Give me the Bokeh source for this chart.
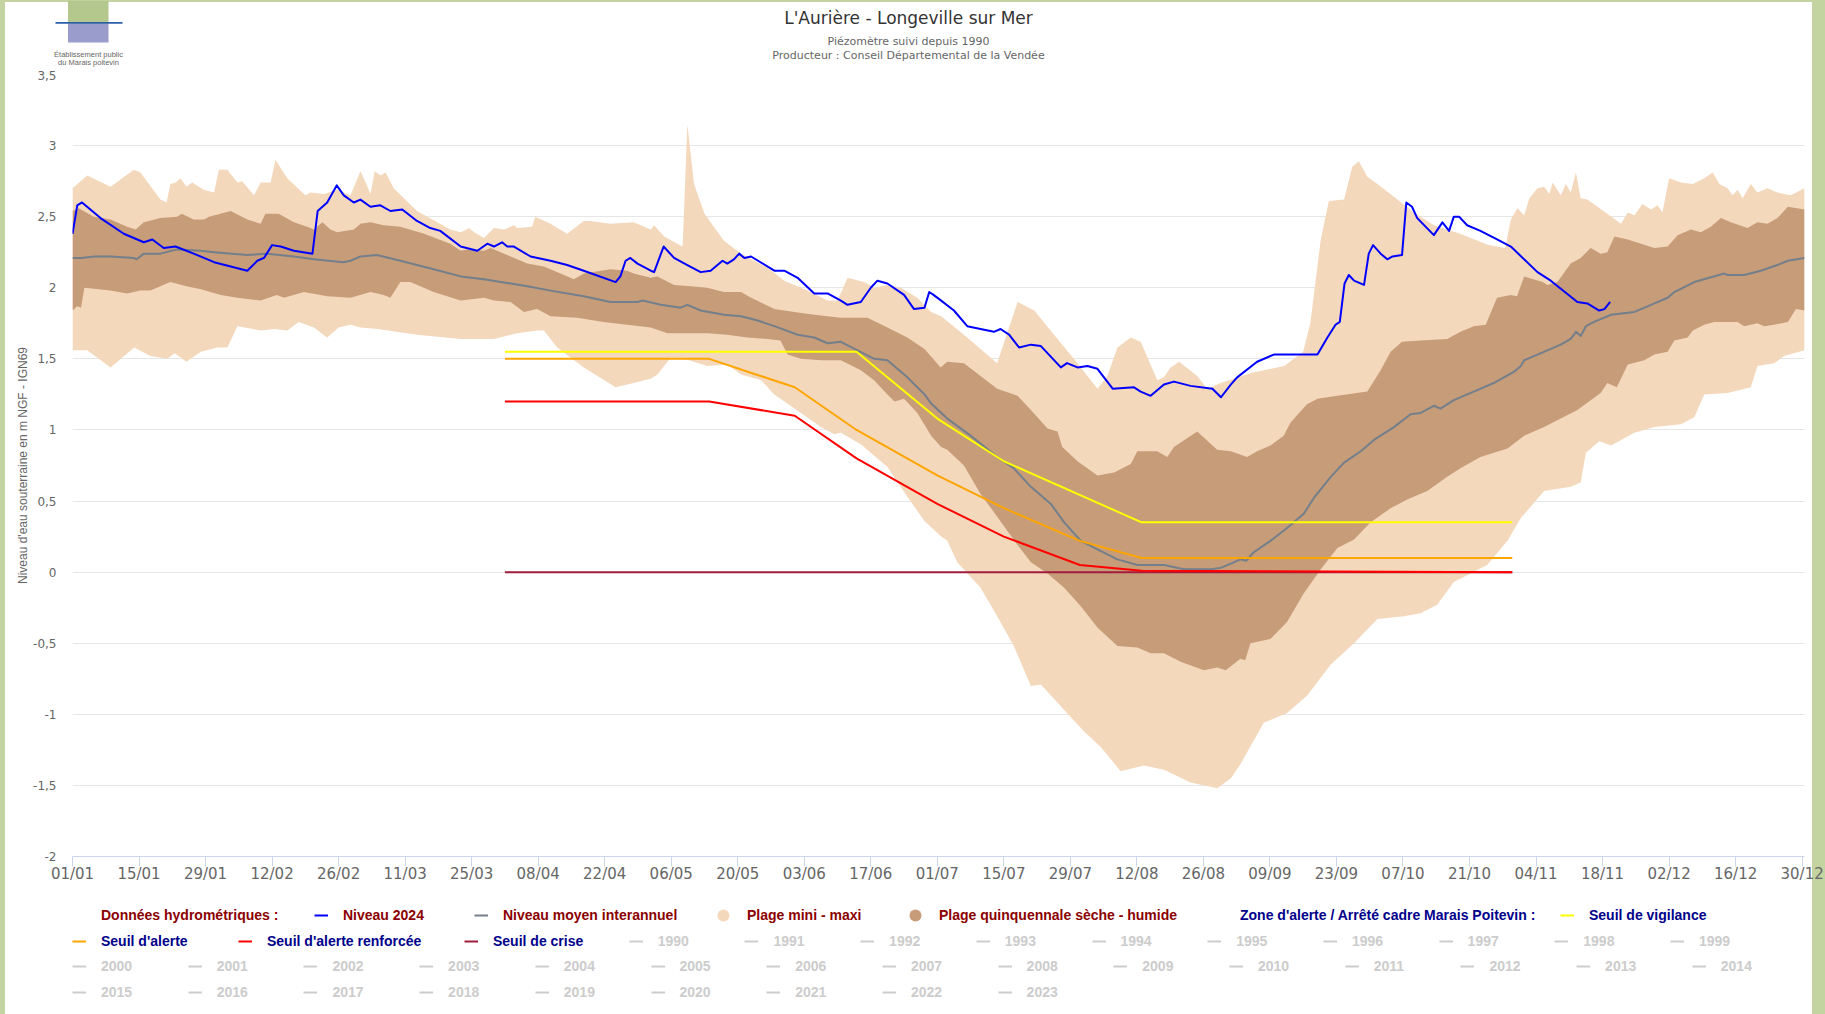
from bokeh.plotting import figure
from bokeh.layouts import column
from bokeh.models import Range1d, FixedTicker, Label, Legend, LegendItem, Plot
from bokeh.core.properties import value
from bokeh.embed import file_html
from bokeh.resources import INLINE

# ---------------- data (x = day of year 2024, 0 = 01/01) ----------------
X_TICK_DAYS = [0, 14, 28, 42, 56, 70, 84, 98, 112, 126, 140, 154, 168, 182,
               196, 210, 224, 238, 252, 266, 280, 294, 308, 322, 336, 350, 364]
X_TICK_LABELS = ["01/01", "15/01", "29/01", "12/02", "26/02", "11/03", "25/03",
                 "08/04", "22/04", "06/05", "20/05", "03/06", "17/06", "01/07",
                 "15/07", "29/07", "12/08", "26/08", "09/09", "23/09", "07/10",
                 "21/10", "04/11", "18/11", "02/12", "16/12", "30/12"]
Y_TICKS = [-2.0, -1.5, -1.0, -0.5, 0.0, 0.5, 1.0, 1.5, 2.0, 2.5, 3.0, 3.5]
Y_TICK_LABELS = ["-2", "-1,5", "-1", "-0,5", "0", "0,5", "1", "1,5", "2", "2,5", "3", "3,5"]

# Plage mini - maxi : upper edge (maxi)
MAXI = [(0, 2.70), (3.1, 2.79), (8, 2.71), (12.9, 2.83), (14.3, 2.81), (18.5, 2.62), (19.8, 2.60),
        (20.6, 2.73), (21.7, 2.74), (22.7, 2.77), (24, 2.71), (25.2, 2.74), (27.6, 2.69), (29.8, 2.67),
        (30.8, 2.83), (32.6, 2.83), (34.7, 2.74), (35.7, 2.75), (38.2, 2.65), (39.6, 2.74), (41.7, 2.74),
        (42.7, 2.90), (45.2, 2.77), (49, 2.65), (50.1, 2.67), (52.9, 2.66), (55.7, 2.69), (58.5, 2.65),
        (60.6, 2.82), (61.7, 2.74), (62.7, 2.66), (63.6, 2.82), (64.8, 2.79), (65.9, 2.81), (67.6, 2.70),
        (72.5, 2.54), (79.5, 2.41), (81.7, 2.39), (83.5, 2.42), (84.5, 2.39), (86.6, 2.35), (88.7, 2.42),
        (90.8, 2.41), (92.9, 2.44), (93.6, 2.42), (96.7, 2.43), (97.4, 2.50), (100.6, 2.45), (104.1, 2.38),
        (107.6, 2.47), (109, 2.47), (113.2, 2.45), (118.1, 2.46), (121.7, 2.41), (122.4, 2.44), (124.5, 2.36),
        (128.4, 2.29), (129.4, 3.15), (130.8, 2.73), (133, 2.52), (137.1, 2.33), (140.7, 2.24), (146.3, 2.14),
        (149.8, 2.05), (154.7, 1.98), (158.9, 1.91), (161, 1.91), (163.1, 2.07), (166.6, 2.04), (168.7, 2.00),
        (171.5, 2.02), (174.3, 2.00), (177.8, 1.93), (180.7, 1.83), (182.8, 1.80), (187.6, 1.67), (194.6, 1.47),
        (197.1, 1.72), (198.9, 1.90), (202.4, 1.84), (207.3, 1.64), (211.5, 1.47), (215.7, 1.29), (217.8, 1.38),
        (219.9, 1.58), (222.7, 1.65), (224.8, 1.62), (228.3, 1.35), (229.7, 1.37), (231.1, 1.44), (232.9, 1.48),
        (236.7, 1.38), (238.8, 1.29), (241.6, 1.33), (248, 1.40), (255, 1.45), (259, 1.55), (260.5, 1.75),
        (262.7, 2.34), (264.4, 2.61), (267.6, 2.62), (269.3, 2.85), (270.7, 2.89), (272.5, 2.78), (274.6, 2.73),
        (278.1, 2.64), (282.3, 2.53), (286.5, 2.44), (292, 2.38), (298, 2.30), (301.5, 2.28), (302.7, 2.48),
        (304.1, 2.56), (305.5, 2.51), (306.6, 2.63), (308.3, 2.70), (309.7, 2.71), (310.8, 2.66), (311.5, 2.74),
        (313.2, 2.65), (314.3, 2.73), (315.3, 2.67), (316.4, 2.81), (317.4, 2.63), (318.8, 2.62), (323, 2.52),
        (325.9, 2.45), (327.3, 2.53), (328.7, 2.51), (330.4, 2.59), (332.2, 2.55), (333.6, 2.58), (334.6, 2.53),
        (336, 2.77), (338.5, 2.74), (341, 2.73), (343.4, 2.77), (345.2, 2.81), (346.6, 2.73), (348.3, 2.70),
        (349.4, 2.65), (350.4, 2.69), (351.5, 2.63), (353.2, 2.73), (354.6, 2.67), (356.7, 2.70), (358.8, 2.67),
        (361.6, 2.65), (364.5, 2.70)]

# Plage mini - maxi : lower edge (mini)
MINI = [(0, 1.56), (3.1, 1.56), (8, 1.44), (13, 1.58), (16.4, 1.52), (20, 1.50), (21.5, 1.54), (24, 1.48),
        (27, 1.55), (30.5, 1.58), (32.6, 1.58), (34.7, 1.73), (39.6, 1.70), (42.5, 1.71), (45.2, 1.70),
        (47.6, 1.76), (50.8, 1.72), (53.6, 1.65), (56, 1.72), (58.5, 1.74), (60.6, 1.72), (64.1, 1.71),
        (72.5, 1.67), (81.7, 1.64), (88.7, 1.64), (93.6, 1.68), (97.8, 1.70), (99.2, 1.70), (102, 1.58),
        (107.6, 1.44), (114.3, 1.30), (118.1, 1.33), (121.7, 1.36), (123.1, 1.39), (125.9, 1.51), (128.7, 1.50),
        (133.6, 1.45), (137.8, 1.46), (140.7, 1.39), (144.9, 1.35), (147.7, 1.25), (153.3, 1.12), (157.5, 1.02),
        (160.3, 0.97), (161.7, 0.98), (165.9, 0.90), (171.5, 0.74), (175.7, 0.53), (179.3, 0.36), (182.8, 0.25),
        (184.1, 0.22), (186.2, 0.07), (191.1, -0.11), (194.6, -0.31), (198.1, -0.52), (201.7, -0.80),
        (203.8, -0.79), (208.7, -0.97), (212.9, -1.12), (216.4, -1.23), (220.6, -1.40), (225.5, -1.36),
        (229.7, -1.39), (235.3, -1.48), (240.9, -1.52), (243.8, -1.45), (245.8, -1.35), (250.7, -1.06),
        (255.6, -0.99), (259.8, -0.87), (264.8, -0.65), (269.7, -0.50), (274.6, -0.33), (280.2, -0.31),
        (283.7, -0.29), (287.2, -0.23), (290.7, -0.07), (294.2, -0.01), (297.7, 0.05), (302, 0.22),
        (304.8, 0.38), (309.7, 0.57), (315.3, 0.60), (317.4, 0.63), (318.5, 0.84), (321.3, 0.92), (323.8, 0.89),
        (328.7, 0.98), (332.9, 1.02), (338.5, 1.04), (341.3, 1.09), (343.4, 1.25), (348.3, 1.26), (353.2, 1.30),
        (354.6, 1.45), (358.1, 1.47), (360.2, 1.52), (364.5, 1.56)]

# Plage quinquennale : humide (upper edge)
QUINQ_HUMIDE = [(0, 2.54), (1.3, 2.56), (4.5, 2.50), (8, 2.48), (11.5, 2.43), (13.3, 2.41), (15, 2.46),
                (18.5, 2.49), (22, 2.50), (23, 2.52), (25.5, 2.48), (27.7, 2.48), (28.7, 2.50), (33.3, 2.54),
                (36.8, 2.48), (39.6, 2.45), (40.6, 2.52), (43.4, 2.52), (46.6, 2.46), (49.4, 2.43), (50.8, 2.41),
                (52.6, 2.46), (54.3, 2.41), (55.7, 2.39), (59.2, 2.41), (60.6, 2.45), (62.7, 2.46), (65.5, 2.44),
                (69, 2.43), (74, 2.38), (79.5, 2.31), (81.7, 2.26), (83.1, 2.27), (86.6, 2.26), (88, 2.28),
                (92.2, 2.22), (95.7, 2.17), (99.2, 2.15), (102.7, 2.10), (105.5, 2.06), (107.6, 2.10),
                (113.2, 2.13), (116.7, 2.12), (118.1, 2.10), (121.7, 2.07), (123.1, 2.08), (126.6, 2.02),
                (130.1, 2.01), (133.6, 2.00), (137.1, 1.97), (140.7, 1.97), (142.8, 1.93), (147.7, 1.85),
                (151.9, 1.83), (156.1, 1.81), (161.7, 1.79), (167.3, 1.79), (171.5, 1.72), (175.7, 1.65),
                (179.3, 1.57), (180.6, 1.52), (182.7, 1.44), (184.1, 1.48), (187.6, 1.47), (191.1, 1.38),
                (194.6, 1.29), (198.9, 1.24), (201.7, 1.14), (205.2, 1.01), (207.3, 0.99), (208.3, 0.88),
                (211.5, 0.78), (215.7, 0.68), (219.2, 0.70), (222.7, 0.76), (224.1, 0.85), (228.3, 0.85),
                (230.4, 0.81), (231.8, 0.88), (236.7, 0.99), (240.9, 0.86), (243.8, 0.85), (247.2, 0.81),
                (249.3, 0.85), (252.1, 0.89), (254.9, 0.96), (256.3, 1.05), (259.8, 1.18), (262, 1.22),
                (266.2, 1.24), (272.5, 1.27), (275.3, 1.42), (277.4, 1.55), (279.8, 1.62), (283.7, 1.63),
                (289.3, 1.64), (292.1, 1.69), (294.9, 1.73), (297.4, 1.74), (299.8, 1.93), (302.7, 1.95),
                (304, 1.94), (305.5, 2.08), (309.4, 2.04), (310.4, 2.02), (312.5, 2.04), (315.3, 2.17),
                (317.4, 2.21), (319.5, 2.28), (321.6, 2.24), (323, 2.25), (324.5, 2.36), (327.3, 2.34),
                (332.9, 2.28), (335.7, 2.29), (337.8, 2.37), (340.6, 2.41), (342.7, 2.39), (344.8, 2.43),
                (346.9, 2.49), (349, 2.46), (352.5, 2.42), (354.6, 2.46), (356.7, 2.45), (358.8, 2.49),
                (361, 2.57), (364.5, 2.55)]

# Plage quinquennale : seche (lower edge)
QUINQ_SECHE = [(0, 1.84), (1, 1.87), (1.8, 1.86), (2.5, 2.00), (8, 1.98), (11.5, 1.96), (14.3, 1.98),
               (16.4, 1.98), (20.6, 2.04), (24, 2.01), (27, 1.99), (31.2, 1.95), (34.7, 1.93), (39.6, 1.91),
               (43, 1.95), (44.5, 1.93), (48.7, 1.97), (53.6, 1.94), (58.5, 1.93), (62.7, 1.97), (65.5, 1.95),
               (66.9, 1.93), (69, 2.04), (71.1, 2.04), (76, 1.97), (81.7, 1.91), (86.6, 1.93), (88.7, 1.91),
               (92.2, 1.90), (95, 1.83), (97.8, 1.85), (100.6, 1.80), (106.2, 1.79), (111.8, 1.76),
               (116.7, 1.74), (121.7, 1.72), (125.2, 1.68), (133.6, 1.68), (137.8, 1.67), (142, 1.65),
               (146.3, 1.64), (149, 1.63), (150.5, 1.53), (153.3, 1.50), (157.5, 1.49), (161.7, 1.49),
               (165.9, 1.42), (168.7, 1.35), (171.5, 1.25), (173, 1.20), (175, 1.22), (177.8, 1.12),
               (180.7, 0.96), (182.8, 0.88), (184.1, 0.86), (187.6, 0.75), (191.1, 0.55), (194.6, 0.39),
               (198.9, 0.19), (201.7, 0.07), (205.2, -0.01), (208.7, -0.11), (212.2, -0.24), (215.7, -0.39),
               (219.9, -0.52), (224.1, -0.53), (226.9, -0.57), (229.7, -0.57), (233.2, -0.63), (238.1, -0.69),
               (240.9, -0.67), (242.7, -0.69), (245.8, -0.61), (246.8, -0.62), (247.9, -0.50), (252.1, -0.47),
               (255.6, -0.35), (259.1, -0.15), (262.7, 0.02), (266.2, 0.17), (269.7, 0.23), (273.2, 0.35),
               (277.4, 0.45), (280.9, 0.51), (285.1, 0.57), (289.3, 0.67), (292.1, 0.73), (296.3, 0.81),
               (302, 0.87), (305.5, 0.96), (309.7, 1.02), (316.7, 1.14), (321.6, 1.26), (323, 1.33),
               (325, 1.30), (327.3, 1.46), (330.8, 1.49), (332.9, 1.53), (335.7, 1.55), (337.1, 1.63),
               (339.9, 1.65), (341, 1.70), (343.4, 1.74), (345.5, 1.76), (350.4, 1.76), (351.8, 1.73),
               (354.6, 1.75), (356, 1.73), (358.1, 1.74), (361, 1.76), (362.7, 1.85), (364.5, 1.84)]

# Niveau moyen interannuel
MOYEN = [(0, 2.21), (2, 2.21), (4.5, 2.22), (8, 2.22), (12.9, 2.21), (13.5, 2.20), (15, 2.24), (18.5, 2.24),
         (22, 2.27), (27, 2.26), (29.8, 2.25), (36.8, 2.23), (41, 2.24), (46.6, 2.22), (50.8, 2.20),
         (57, 2.18), (58.5, 2.19), (60.6, 2.22), (64.1, 2.23), (69, 2.19), (76, 2.13), (81.7, 2.08),
         (86.6, 2.06), (92.2, 2.03), (95.7, 2.01), (100.6, 1.98), (107.6, 1.94), (113.2, 1.90), (118.9, 1.90),
         (120, 1.91), (123.8, 1.88), (128, 1.86), (129.4, 1.88), (132.2, 1.84), (137.1, 1.81), (140.7, 1.80),
         (144.2, 1.77), (147.7, 1.73), (152.6, 1.67), (156.1, 1.65), (158.9, 1.61), (161.7, 1.62),
         (165.2, 1.56), (168.7, 1.50), (171.5, 1.49), (175.7, 1.37), (179.3, 1.25), (180.6, 1.19),
         (184.1, 1.08), (189, 0.96), (194.6, 0.81), (198.1, 0.73), (201.7, 0.60), (205.9, 0.48), (208.7, 0.35),
         (212.2, 0.22), (215.7, 0.16), (219.9, 0.09), (224.1, 0.05), (229.7, 0.05), (233.9, 0.02),
         (239.5, 0.02), (241.6, 0.03), (243.8, 0.06), (245.8, 0.09), (247, 0.08), (248.6, 0.14), (252.1, 0.22),
         (255.6, 0.31), (259.1, 0.41), (261.2, 0.52), (264.8, 0.67), (267.6, 0.77), (271.1, 0.85),
         (273.9, 0.93), (278.1, 1.02), (281.6, 1.11), (283.7, 1.12), (286.5, 1.17), (287.9, 1.15),
         (290.7, 1.21), (294.9, 1.27), (299.1, 1.33), (303.4, 1.41), (304.8, 1.45), (305.5, 1.49),
         (308.3, 1.53), (313.2, 1.60), (315.3, 1.64), (316.4, 1.69), (317.4, 1.66), (318.5, 1.73),
         (320.2, 1.76), (323.8, 1.81), (328.7, 1.83), (332.2, 1.88), (335.7, 1.93), (337.1, 1.97),
         (341.3, 2.04), (347.6, 2.10), (348.3, 2.09), (351.8, 2.09), (355.3, 2.12), (358.8, 2.16),
         (361, 2.19), (364.5, 2.21)]

# Niveau 2024
NIVEAU_2024 = [(0, 2.38), (1, 2.58), (2, 2.60), (5.9, 2.49), (10.8, 2.38), (15, 2.32), (16.8, 2.34),
               (19.2, 2.28), (21.7, 2.29), (25.5, 2.24), (29.8, 2.18), (36.8, 2.12), (38.9, 2.19), (40.3, 2.21),
               (42, 2.30), (43.8, 2.29), (46.6, 2.26), (50.5, 2.24), (51.6, 2.54), (53.6, 2.60), (55.6, 2.72),
               (57.1, 2.65), (59.2, 2.60), (60.6, 2.62), (62.7, 2.57), (64.8, 2.58), (66.9, 2.54), (69.4, 2.55),
               (72.5, 2.47), (75.3, 2.42), (77.4, 2.40), (81.7, 2.29), (85.2, 2.26), (87.3, 2.31), (88.7, 2.29),
               (90.4, 2.32), (91.5, 2.29), (92.9, 2.29), (96.4, 2.22), (100.6, 2.19), (104.1, 2.16),
               (107.6, 2.12), (114.3, 2.04), (115.3, 2.08), (116.4, 2.19), (117.4, 2.21), (118.9, 2.17),
               (121.7, 2.12), (122.4, 2.11), (124.4, 2.29), (126.6, 2.21), (129.4, 2.16), (132.2, 2.11),
               (134.3, 2.12), (136.8, 2.19), (137.8, 2.17), (139.2, 2.20), (140.3, 2.24), (141.4, 2.21),
               (142.8, 2.22), (147.7, 2.12), (149.8, 2.12), (152.6, 2.07), (156.1, 1.96), (158.9, 1.96),
               (161.7, 1.91), (163.1, 1.88), (165.9, 1.90), (168, 2.00), (169.4, 2.05), (171.5, 2.03),
               (175, 1.95), (177.1, 1.85), (179.3, 1.86), (180.3, 1.97), (181.2, 1.95), (182.4, 1.92),
               (185.5, 1.84), (188.3, 1.73), (191.1, 1.71), (193.9, 1.69), (195.3, 1.71), (197.1, 1.67),
               (199.2, 1.58), (201.7, 1.60), (203.8, 1.59), (208, 1.44), (209.3, 1.47), (211.5, 1.44),
               (213.6, 1.45), (215.7, 1.43), (218.9, 1.29), (223.4, 1.30), (224.8, 1.27), (226.9, 1.24),
               (229.7, 1.32), (231.8, 1.34), (235.3, 1.31), (239.9, 1.29), (241.7, 1.23), (243.8, 1.32),
               (245.1, 1.37), (249.3, 1.48), (252.8, 1.53), (257.7, 1.53), (262, 1.53), (264.1, 1.65),
               (265.8, 1.74), (266.7, 1.76), (267.7, 2.03), (268.6, 2.09), (269.7, 2.05), (271.8, 2.02),
               (272.8, 2.24), (273.7, 2.30), (275.3, 2.24), (276.7, 2.20), (277.8, 2.22), (279.8, 2.23),
               (280.7, 2.60), (281.9, 2.57), (283, 2.49), (286.5, 2.37), (288.3, 2.46), (289.7, 2.40),
               (290.7, 2.50), (291.8, 2.50), (293.5, 2.44), (296.3, 2.40), (299.8, 2.34), (302.7, 2.29),
               (308.3, 2.11), (311.1, 2.05), (316.7, 1.90), (318.8, 1.89), (321.3, 1.84), (322.4, 1.85),
               (323.6, 1.90)]

# Zone d'alerte / Arrêté cadre Marais Poitevin
SEUIL_VIGILANCE = [(91, 1.55), (165, 1.55), (182, 1.08), (196, 0.78), (225, 0.35), (303, 0.35)]
SEUIL_ALERTE = [(91, 1.50), (134, 1.50), (152, 1.30), (165, 1.00), (182, 0.68), (196, 0.45),
                (212, 0.22), (225, 0.10), (303, 0.10)]
SEUIL_RENFORCEE = [(91, 1.20), (134, 1.20), (152, 1.10), (165, 0.80), (182, 0.48), (196, 0.25),
                   (212, 0.05), (225, 0.01), (303, 0.0)]
SEUIL_CRISE = [(91, 0.0), (303, 0.0)]

YEARS = [str(y) for y in range(1990, 2024)]

# ---------------- styles ----------------
LIGHT = "#f4d8bc"
DARK = "#c79c79"
DARKRED = "#8b0000"
NAVY = "#00008b"
FONT = "DejaVu Sans"
LFONT = "Liberation Sans"
C_MEAN = "#737f8a"
C_BLUE = "#0000ff"
C_VIG = "#ffff00"
C_AL = "#ffa500"
C_REN = "#ff0000"
C_CR = "#a01c3c"
C_YEAR = "#cccccc"
C_PAGE = "#c4d4a0"

W = 1825
TOP_H = 70
MAIN_H = 816
LEG_H = 1014 - TOP_H - MAIN_H

HAS_FA = "frame_align" in Plot.properties()
if HAS_FA:
    X0, X1 = 0, W
else:
    X0, X1 = 72, 1804


def xs(series):
    return [d for d, _ in series]


def ys(series):
    return [v for _, v in series]


def blank_fig(height, y_top, y_bottom):
    f = figure(width=W, height=height, x_range=Range1d(X0, X1), y_range=Range1d(y_bottom, y_top),
               x_axis_type=None, y_axis_type=None, output_backend="svg", toolbar_location=None,
               title=None, min_border=0, min_border_left=X0, min_border_right=W - X1,
               min_border_top=0, min_border_bottom=0, outline_line_color=None,
               background_fill_alpha=0, border_fill_alpha=0)
    if HAS_FA:
        f.frame_align = False
    return f


# ---------------- header: title, subtitles, logo (page pixel coordinates) ----------------
top = blank_fig(TOP_H, 0, TOP_H)
top.quad(left=[67.5], right=[108], top=[0], bottom=[23.3], fill_color="#b4c88e", line_color=None)
top.quad(left=[67.5], right=[108], top=[23.3], bottom=[42], fill_color="#9a9ccc", line_color=None)
top.quad(left=[55], right=[122], top=[21.5], bottom=[23.2], fill_color="#2d5fa8", line_color=None)
top.add_layout(Label(x=88, y=53.5, text="Établissement public", text_align="center",
                     text_baseline="middle", text_font=LFONT, text_font_size="7.5px",
                     text_color="#666666"))
top.add_layout(Label(x=88, y=61.7, text="du Marais poitevin", text_align="center",
                     text_baseline="middle", text_font=LFONT, text_font_size="7.5px",
                     text_color="#666666"))
top.add_layout(Label(x=908, y=17.5, text="L'Aurière - Longeville sur Mer", text_align="center",
                     text_baseline="middle", text_font=FONT, text_font_size="17px",
                     text_color="#333333"))
top.add_layout(Label(x=908, y=41, text="Piézomètre suivi depuis 1990", text_align="center",
                     text_baseline="middle", text_font=FONT, text_font_size="11px",
                     text_color="#666666"))
top.add_layout(Label(x=908, y=55, text="Producteur : Conseil Départemental de la Vendée",
                     text_align="center", text_baseline="middle", text_font=FONT,
                     text_font_size="11px", text_color="#666666"))

# ---------------- main chart ----------------
p = figure(width=W, height=MAIN_H, x_range=Range1d(0, 364.5), y_range=Range1d(-2, 3.5),
           output_backend="svg", toolbar_location=None, title=None,
           min_border_left=72, min_border_right=21, min_border_top=4, min_border_bottom=30,
           outline_line_color=None, background_fill_color="white", border_fill_alpha=0)
if HAS_FA:
    p.frame_align = False

p.patch(xs(MAXI) + xs(MINI)[::-1], ys(MAXI) + ys(MINI)[::-1], fill_color=LIGHT, line_color=None)
p.patch(xs(QUINQ_HUMIDE) + xs(QUINQ_SECHE)[::-1], ys(QUINQ_HUMIDE) + ys(QUINQ_SECHE)[::-1],
        fill_color=DARK, line_color=None)
p.line(xs(MOYEN), ys(MOYEN), line_color=C_MEAN, line_width=2, line_join="round")
p.line(xs(SEUIL_VIGILANCE), ys(SEUIL_VIGILANCE), line_color=C_VIG, line_width=2)
p.line(xs(SEUIL_ALERTE), ys(SEUIL_ALERTE), line_color=C_AL, line_width=2)
p.line(xs(SEUIL_CRISE), ys(SEUIL_CRISE), line_color=C_CR, line_width=2)
p.line(xs(SEUIL_RENFORCEE), ys(SEUIL_RENFORCEE), line_color=C_REN, line_width=2)
p.line(xs(NIVEAU_2024), ys(NIVEAU_2024), line_color=C_BLUE, line_width=2, line_join="round")

p.xaxis.ticker = FixedTicker(ticks=X_TICK_DAYS)
p.xaxis.major_label_overrides = {d: lab for d, lab in zip(X_TICK_DAYS, X_TICK_LABELS)}
p.xaxis.axis_line_color = "#ccd6eb"
p.xaxis.major_tick_line_color = "#ccd6eb"
p.xaxis.major_tick_out = 10
p.xaxis.major_tick_in = 0
p.xaxis.minor_tick_line_color = None
p.xaxis.major_label_standoff = -2
p.xaxis.major_label_text_font = FONT
p.xaxis.major_label_text_font_size = "15px"
p.xaxis.major_label_text_color = "#666666"

p.yaxis.ticker = FixedTicker(ticks=Y_TICKS)
p.yaxis.major_label_overrides = {t: lab for t, lab in zip(Y_TICKS, Y_TICK_LABELS)}
p.yaxis.axis_line_color = None
p.yaxis.major_tick_line_color = None
p.yaxis.minor_tick_line_color = None
p.yaxis.major_tick_out = 0
p.yaxis.major_tick_in = 0
p.yaxis.major_label_standoff = 16
p.yaxis.major_label_text_font = FONT
p.yaxis.major_label_text_font_size = "12px"
p.yaxis.major_label_text_color = "#666666"
p.yaxis.axis_label = "Niveau d'eau souterraine en m NGF - IGN69"
p.yaxis.axis_label_text_font = LFONT
p.yaxis.axis_label_text_font_size = "12px"
p.yaxis.axis_label_text_font_style = "normal"
p.yaxis.axis_label_text_color = "#666666"
p.yaxis.axis_label_standoff = 0

p.xgrid.grid_line_color = None
p.ygrid.grid_line_color = "#e6e6e6"

# ---------------- legend area (page pixel coordinates) ----------------
PAGE_TOP = TOP_H + MAIN_H
leg = blank_fig(LEG_H, PAGE_TOP, 1014)

# legend-only renderers: one point placed off-canvas so only the legend swatch shows
OFF = [-500, -490]
g_none = leg.line(x=OFF, y=OFF, line_alpha=0)
g_blue = leg.line(x=OFF, y=OFF, line_color=C_BLUE, line_width=2)
g_mean = leg.line(x=OFF, y=OFF, line_color=C_MEAN, line_width=2)
g_light = leg.scatter(x=OFF, y=OFF, marker="circle", size=12, fill_color=LIGHT, line_color=None)
g_dark = leg.scatter(x=OFF, y=OFF, marker="circle", size=12, fill_color=DARK, line_color=None)
g_vig = leg.line(x=OFF, y=OFF, line_color=C_VIG, line_width=2)
g_al = leg.line(x=OFF, y=OFF, line_color=C_AL, line_width=2)
g_ren = leg.line(x=OFF, y=OFF, line_color=C_REN, line_width=2)
g_cr = leg.line(x=OFF, y=OFF, line_color=C_CR, line_width=2)
g_year = leg.line(x=OFF, y=OFF, line_color=C_YEAR, line_width=2)

ROW_Y = [915, 940.5, 966, 992]


def add_item(label, renderer, color, left, row, circle=False):
    gh = 30 if circle else 16
    gw = 30 if circle else 14
    standoff = 9 if circle else 15
    lg = Legend(items=[LegendItem(label=value(label), renderers=[renderer])],
                location=(left - X0, 1014 - ROW_Y[row] - gh / 2),
                orientation="horizontal", glyph_width=gw, glyph_height=gh, label_height=gh,
                label_standoff=standoff, padding=0, margin=0, spacing=0,
                border_line_color=None, background_fill_alpha=0,
                label_text_font=LFONT, label_text_font_style="bold",
                label_text_font_size="14px", label_text_color=color)
    leg.add_layout(lg)


add_item("Données hydrométriques :", g_none, DARKRED, 72, 0)
add_item("Niveau 2024", g_blue, DARKRED, 314, 0)
add_item("Niveau moyen interannuel", g_mean, DARKRED, 474, 0)
add_item("Plage mini - maxi", g_light, DARKRED, 708, 0, circle=True)
add_item("Plage quinquennale sèche - humide", g_dark, DARKRED, 900, 0, circle=True)
add_item("Zone d'alerte / Arrêté cadre Marais Poitevin :", g_none, NAVY, 1211, 0)
add_item("Seuil de vigilance", g_vig, NAVY, 1560, 0)
add_item("Seuil d'alerte", g_al, NAVY, 72, 1)
add_item("Seuil d'alerte renforcée", g_ren, NAVY, 238, 1)
add_item("Seuil de crise", g_cr, NAVY, 464, 1)

PITCH = 115.7
for i, yr in enumerate(YEARS):
    if i < 10:
        add_item(yr, g_year, C_YEAR, 628.7 + i * PITCH, 1)
    elif i < 25:
        add_item(yr, g_year, C_YEAR, 72 + (i - 10) * PITCH, 2)
    else:
        add_item(yr, g_year, C_YEAR, 72 + (i - 25) * PITCH, 3)

# page frame: thin green strips on the left, top and right, as in the reference screenshot
PAGE_BG = ("linear-gradient(to bottom, {c} 0px, {c} 2px, rgba(255,255,255,0) 2px), "
           "linear-gradient(to right, {c} 0px, {c} 5px, #ffffff 5px, #ffffff 1812px, {c} 1812px)"
           ).format(c=C_PAGE)
layout = column(top, p, leg, spacing=0, styles={"background-image": PAGE_BG,
                                                "background-color": "#ffffff"})
open("out.html", "w").write(file_html(layout, INLINE))
